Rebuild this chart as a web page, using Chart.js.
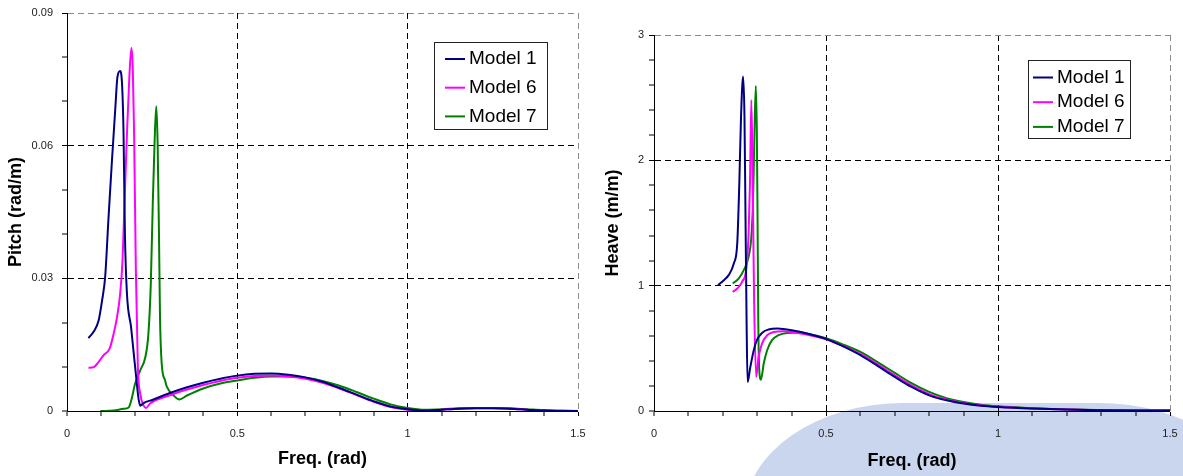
<!DOCTYPE html>
<html>
<head>
<meta charset="utf-8">
<script src="https://cdn.jsdelivr.net/npm/chart.js@4.4.1/dist/chart.umd.min.js"></script>
<style>
html, body { margin: 0; padding: 0; background: #fff; }
#wrap { position: relative; width: 1183px; height: 476px; overflow: hidden; }
#blob { position: absolute; left: 745px; top: 403px; width: 513px; height: 300px; border-radius: 160px / 110px; background: #c9d6ee; }
canvas { position: absolute; top: 0; }
#pitch { left: 0; }
#heave { left: 590px; }
</style>
</head>
<body>
<div id="wrap">
  <div id="blob"></div>
  <canvas id="pitch" width="590" height="476"></canvas>
  <canvas id="heave" width="593" height="476"></canvas>
</div>
<script>
// ---- data ----
const seriesNames = ['Model 1', 'Model 6', 'Model 7'];
const freqMajor = [0, 0.5, 1, 1.5];
const pitchMajor = [0, 0.03, 0.06, 0.09];
const heaveMajor = [0, 1, 2, 3];

// Pitch (rad/m)
const pitchFreq1 = [0.063, 0.078, 0.093, 0.103, 0.112, 0.122, 0.132, 0.142, 0.148, 0.156, 0.162, 0.166, 0.170, 0.176, 0.188, 0.195, 0.203, 0.210, 0.215, 0.225, 0.25, 0.3, 0.35, 0.4, 0.45, 0.5, 0.55, 0.6, 0.65, 0.7, 0.75, 0.8, 0.85, 0.9, 0.95, 1.0, 1.05, 1.1, 1.15, 1.2, 1.25, 1.3, 1.35, 1.4, 1.45, 1.5];
const pitchModel1 = [0.0165, 0.0179, 0.0205, 0.025, 0.0303, 0.0439, 0.0567, 0.0687, 0.0755, 0.0769, 0.0733, 0.0627, 0.0401, 0.0265, 0.019, 0.0137, 0.0077, 0.0028, 0.0012, 0.0018, 0.0025, 0.0040, 0.0053, 0.0064, 0.0073, 0.0080, 0.0084, 0.0085, 0.0082, 0.0076, 0.0066, 0.0052, 0.0037, 0.0022, 0.0010, 0.0004, 0.0001, 0.0003, 0.0005, 0.0006, 0.0006, 0.0005, 0.0003, 0.0001, 0.0, 0.0];

const pitchFreq6 = [0.063, 0.078, 0.093, 0.107, 0.125, 0.137, 0.147, 0.156, 0.163, 0.169, 0.176, 0.183, 0.189, 0.193, 0.197, 0.202, 0.208, 0.215, 0.225, 0.232, 0.244, 0.3, 0.35, 0.4, 0.45, 0.5, 0.55, 0.6, 0.65, 0.7, 0.75, 0.8, 0.85, 0.9, 0.95, 1.0, 1.05, 1.1, 1.15, 1.2, 1.25, 1.3, 1.35, 1.4, 1.45, 1.5];
const pitchModel6 = [0.0098, 0.0099, 0.0111, 0.0126, 0.0141, 0.0175, 0.0213, 0.0265, 0.0341, 0.0476, 0.0627, 0.0755, 0.0821, 0.0778, 0.0627, 0.0326, 0.0099, 0.0039, 0.0012, 0.0007, 0.0017, 0.0035, 0.0048, 0.0059, 0.0068, 0.0075, 0.0079, 0.0080, 0.0078, 0.0073, 0.0064, 0.0051, 0.0036, 0.0021, 0.0009, 0.0003, 0.0001, 0.0003, 0.0005, 0.0006, 0.0006, 0.0005, 0.0003, 0.0001, 0.0, 0.0];

const pitchFreq7 = [0.098, 0.137, 0.166, 0.181, 0.190, 0.200, 0.215, 0.230, 0.239, 0.246, 0.252, 0.257, 0.262, 0.266, 0.270, 0.273, 0.278, 0.288, 0.293, 0.313, 0.330, 0.352, 0.4, 0.45, 0.5, 0.55, 0.6, 0.65, 0.7, 0.75, 0.8, 0.85, 0.9, 0.95, 1.0, 1.05, 1.1, 1.15, 1.2, 1.25, 1.3, 1.35, 1.4, 1.45, 1.5];
const pitchModel7 = [0.0, 0.0001, 0.0005, 0.0008, 0.0028, 0.0062, 0.0092, 0.0122, 0.0175, 0.0288, 0.0476, 0.0605, 0.0689, 0.0607, 0.0401, 0.0213, 0.0107, 0.0069, 0.0055, 0.0035, 0.0026, 0.0035, 0.0051, 0.0062, 0.0069, 0.0075, 0.0078, 0.0078, 0.0075, 0.0068, 0.0057, 0.0043, 0.0028, 0.0015, 0.0007, 0.0003, 0.0004, 0.0006, 0.0007, 0.0007, 0.0006, 0.0004, 0.0002, 0.0001, 0.0];

// Heave (m/m)
const heaveFreq1 = [0.186, 0.203, 0.217, 0.232, 0.242, 0.248, 0.253, 0.259, 0.263, 0.266, 0.269, 0.272, 0.280, 0.290, 0.299, 0.314, 0.333, 0.358, 0.387, 0.42, 0.45, 0.5, 0.55, 0.6, 0.65, 0.7, 0.75, 0.8, 0.85, 0.9, 0.95, 1.0, 1.1, 1.2, 1.3, 1.4, 1.5];
const heaveModel1 = [1.004, 1.044, 1.084, 1.177, 1.337, 1.816, 2.348, 2.668, 2.348, 1.55, 0.751, 0.232, 0.351, 0.485, 0.565, 0.623, 0.650, 0.658, 0.650, 0.635, 0.615, 0.575, 0.515, 0.445, 0.36, 0.272, 0.19, 0.125, 0.085, 0.059, 0.042, 0.032, 0.019, 0.011, 0.006, 0.004, 0.003];

const heaveFreq6 = [0.229, 0.242, 0.256, 0.269, 0.275, 0.279, 0.283, 0.287, 0.291, 0.297, 0.304, 0.314, 0.329, 0.348, 0.377, 0.4, 0.45, 0.5, 0.55, 0.6, 0.65, 0.7, 0.75, 0.8, 0.85, 0.9, 0.95, 1.0, 1.1, 1.2, 1.3, 1.4, 1.5];
const heaveModel6 = [0.95, 0.977, 1.03, 1.15, 1.417, 1.816, 2.482, 1.816, 0.884, 0.272, 0.431, 0.538, 0.605, 0.631, 0.637, 0.630, 0.607, 0.573, 0.518, 0.455, 0.372, 0.285, 0.202, 0.135, 0.092, 0.064, 0.045, 0.034, 0.020, 0.011, 0.006, 0.004, 0.003];

const heaveFreq7 = [0.229, 0.246, 0.261, 0.275, 0.283, 0.288, 0.292, 0.296, 0.299, 0.301, 0.303, 0.306, 0.311, 0.319, 0.329, 0.343, 0.362, 0.387, 0.416, 0.45, 0.5, 0.55, 0.6, 0.65, 0.7, 0.75, 0.8, 0.85, 0.9, 0.95, 1.0, 1.1, 1.2, 1.3, 1.4, 1.5];
const heaveModel7 = [1.018, 1.057, 1.124, 1.23, 1.39, 1.683, 2.216, 2.593, 2.216, 1.55, 0.751, 0.325, 0.25, 0.379, 0.485, 0.565, 0.605, 0.623, 0.626, 0.615, 0.58, 0.53, 0.471, 0.39, 0.304, 0.22, 0.152, 0.103, 0.072, 0.05, 0.037, 0.022, 0.012, 0.007, 0.004, 0.003];

const seriesColors = ['#000080', '#ff00ff', '#008000'];

// ---- helpers ----
function isMajor(v, majors) {
    return majors.some(m => Math.abs(m - v) < 1e-6);
}
function fmt(v) {
    return String(+v.toFixed(2));
}

const boxLegend = {
    id: 'boxLegend',
    afterDraw(chart, args, o) {
        const ctx = chart.ctx;
        ctx.save();
        ctx.fillStyle = '#fff';
        ctx.fillRect(o.x, o.y, o.w, o.h);
        ctx.strokeStyle = '#222';
        ctx.lineWidth = 1;
        ctx.strokeRect(o.x + 0.5, o.y + 0.5, o.w, o.h);
        ctx.font = o.font;
        ctx.textBaseline = 'middle';
        chart.data.datasets.forEach((ds, i) => {
            const cy = o.rowY + i * o.rowGap;
            ctx.strokeStyle = ds.borderColor;
            ctx.lineWidth = 2;
            ctx.beginPath();
            ctx.moveTo(o.lineX, cy);
            ctx.lineTo(o.lineX + o.lineW, cy);
            ctx.stroke();
            ctx.fillStyle = '#000';
            ctx.fillText(ds.label, o.textX, cy);
        });
        ctx.restore();
    }
};

function makeChart(id, xs, ys, yMax, yStep, yMajors, yTitle, layout, legend) {
    const datasets = ys.map((yv, k) => ({
        label: seriesNames[k],
        data: xs[k].map((x, i) => ({x: x, y: yv[i]})),
        borderColor: seriesColors[k],
        backgroundColor: seriesColors[k],
        borderWidth: 2,
        pointRadius: 0,
        showLine: true,
        fill: false,
        cubicInterpolationMode: 'monotone'
    }));

    const tickFont = {family: 'Liberation Sans, Arial, sans-serif', size: 11};
    const titleFont = {family: 'Liberation Sans, Arial, sans-serif', size: 18, weight: 'bold'};

    return new Chart(document.getElementById(id), {
        type: 'scatter',
        data: {datasets: datasets},
        plugins: [boxLegend],
        options: {
            responsive: false,
            animation: false,
            layout: {padding: {top: layout.top, right: layout.right, left: 0, bottom: 0}},
            plugins: {
                legend: {display: false},
                tooltip: {enabled: false},
                boxLegend: legend
            },
            scales: {
                x: {
                    type: 'linear',
                    min: 0,
                    max: 1.5,
                    afterFit: s => { s.height = 65; s.paddingLeft = 0; s.paddingRight = 0; },
                    ticks: {
                        stepSize: 0.1,
                        autoSkip: false,
                        maxRotation: 0,
                        padding: 11,
                        color: '#222',
                        font: tickFont,
                        callback: v => isMajor(v, freqMajor) ? fmt(v) : ''
                    },
                    grid: {
                        lineWidth: c => (isMajor(c.tick.value, freqMajor) && c.tick.value > 0) ? 1 : 0,
                        color: c => c.tick.value >= 1.5 - 1e-6 ? '#8a8a8a' : '#000',
                        tickColor: '#000',
                        tickWidth: 1,
                        tickLength: 5
                    },
                    border: {color: '#000', width: 1, dash: [6, 4]},
                    title: {display: true, text: 'Freq. (rad)', color: '#000', font: titleFont, padding: {top: 0, bottom: layout.xTitlePad}}
                },
                y: {
                    type: 'linear',
                    min: 0,
                    max: yMax,
                    afterFit: s => { s.width = layout.yWidth; s.paddingTop = 0; s.paddingBottom = 0; },
                    ticks: {
                        stepSize: yStep,
                        autoSkip: false,
                        padding: layout.yTickPad,
                        color: '#222',
                        font: tickFont,
                        callback: v => isMajor(v, yMajors) ? fmt(v) : ''
                    },
                    grid: {
                        lineWidth: c => (isMajor(c.tick.value, yMajors) && c.tick.value > 0) ? 1 : 0,
                        color: c => c.tick.value >= yMax - 1e-6 ? '#8a8a8a' : '#000',
                        tickColor: '#000',
                        tickWidth: 1,
                        tickLength: 5
                    },
                    border: {color: '#000', width: 1, dash: [6, 4]},
                    title: {display: true, text: yTitle, color: '#000', font: titleFont, padding: {top: layout.yTitlePad, bottom: 0}}
                }
            }
        }
    });
}

makeChart('pitch',
    [pitchFreq1, pitchFreq6, pitchFreq7],
    [pitchModel1, pitchModel6, pitchModel7],
    0.09, 0.01, pitchMajor, 'Pitch (rad/m)',
    {top: 13, right: 12, yWidth: 67, yTickPad: 9, yTitlePad: 5, xTitlePad: 6},
    {x: 434, y: 42, w: 113, h: 87, rowY: 59, rowGap: 28.7, lineX: 445, lineW: 20, textX: 469,
     font: '19px "Liberation Sans", Arial, sans-serif'});

makeChart('heave',
    [heaveFreq1, heaveFreq6, heaveFreq7],
    [heaveModel1, heaveModel6, heaveModel7],
    3, 0.2, heaveMajor, 'Heave (m/m)',
    {top: 35, right: 13, yWidth: 64, yTickPad: 5, yTitlePad: 12, xTitlePad: 4},
    {x: 438, y: 60, w: 102, h: 78, rowY: 77.5, rowGap: 24.7, lineX: 443, lineW: 20, textX: 467,
     font: '19px "Liberation Sans", Arial, sans-serif'});
</script>
</body>
</html>
